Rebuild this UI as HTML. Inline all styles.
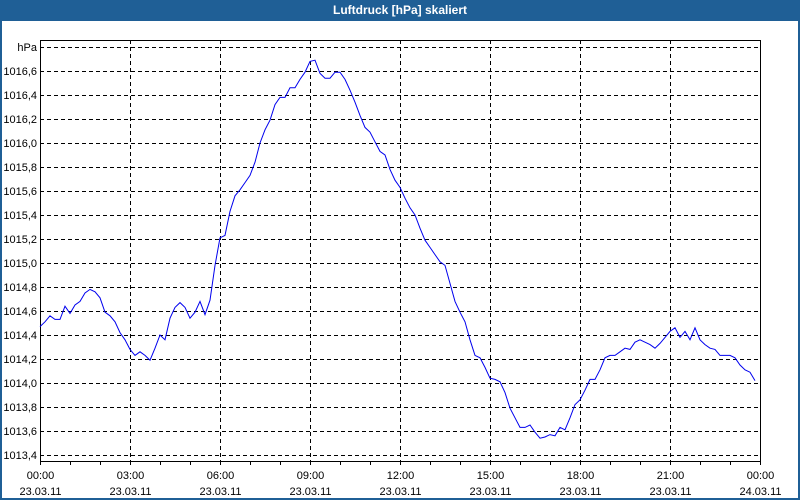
<!DOCTYPE html>
<html><head><meta charset="utf-8"><style>
body{margin:0;width:800px;height:500px;overflow:hidden;background:#fff;font-family:"Liberation Sans",sans-serif}
#frame{position:absolute;left:0;top:0;width:800px;height:500px;box-sizing:border-box;border:2px solid #1f5f96;border-top:none}
#title{position:absolute;left:0;top:0;width:800px;height:21px;background:#1f5f96;color:#fff;font-weight:bold;font-size:12px;line-height:21px;text-align:center}
svg{position:absolute;left:0;top:0}
</style></head><body>
<div id="frame"></div>
<div id="title">Luftdruck [hPa] skaliert</div>
<svg id="chart" width="800" height="500"></svg>
<script>
const yTicks=[1013.4,1013.6,1013.8,1014.0,1014.2,1014.4,1014.6,1014.8,1015.0,1015.2,1015.4,1015.6,1015.8,1016.0,1016.2,1016.4,1016.6];
const xTickHours=[0,3,6,9,12,15,18,21,24];
const xTimeLabels=["00:00","03:00","06:00","09:00","12:00","15:00","18:00","21:00","00:00"];
const xDateLabels=["23.03.11","23.03.11","23.03.11","23.03.11","23.03.11","23.03.11","23.03.11","23.03.11","24.03.11"];
const pressure=[1014.47,1014.51,1014.56,1014.53,1014.53,1014.64,1014.58,1014.65,1014.68,1014.75,1014.78,1014.76,1014.71,1014.59,1014.56,1014.51,1014.42,1014.36,1014.28,1014.23,1014.26,1014.23,1014.19,1014.29,1014.40,1014.36,1014.54,1014.63,1014.67,1014.63,1014.54,1014.59,1014.68,1014.57,1014.69,1014.98,1015.21,1015.23,1015.43,1015.56,1015.61,1015.67,1015.73,1015.84,1016.00,1016.11,1016.19,1016.32,1016.38,1016.38,1016.46,1016.46,1016.53,1016.59,1016.68,1016.69,1016.58,1016.54,1016.54,1016.59,1016.59,1016.53,1016.44,1016.34,1016.23,1016.13,1016.09,1016.01,1015.93,1015.90,1015.78,1015.69,1015.63,1015.54,1015.46,1015.40,1015.29,1015.19,1015.13,1015.07,1015.01,1014.98,1014.83,1014.68,1014.59,1014.51,1014.36,1014.23,1014.21,1014.13,1014.04,1014.03,1014.01,1013.92,1013.79,1013.71,1013.63,1013.63,1013.65,1013.59,1013.54,1013.55,1013.57,1013.56,1013.63,1013.61,1013.71,1013.82,1013.86,1013.94,1014.03,1014.03,1014.11,1014.21,1014.23,1014.23,1014.26,1014.29,1014.28,1014.34,1014.36,1014.34,1014.32,1014.29,1014.33,1014.38,1014.43,1014.46,1014.38,1014.43,1014.36,1014.46,1014.36,1014.32,1014.29,1014.28,1014.23,1014.23,1014.23,1014.21,1014.15,1014.11,1014.09,1014.02];
const stepMinutes=10;
const L=40,R=760,T=40,B=461;
const xs=h=>L+(h/24)*(R-L);
const ys=v=>47+(1016.8-v)*120;
const svg=document.getElementById('chart');
const NS='http://www.w3.org/2000/svg';
function mk(tag,attrs){const e=document.createElementNS(NS,tag);for(const k in attrs)e.setAttribute(k,attrs[k]);svg.appendChild(e);return e;}
// horizontal grid
[...yTicks,1016.8].forEach(v=>{
  const y=Math.round(ys(v))+0.5;
  const g=mk('line',{x1:L,x2:R,y1:y,y2:y,stroke:'#000','stroke-dasharray':'4,3','stroke-width':1});
  
  
});
yTicks.forEach(v=>{
  const t=mk('text',{x:L-3,y:Math.round(ys(v))+4,'text-anchor':'end','font-size':'11','font-family':'Liberation Sans, sans-serif',fill:'#000'});
  t.textContent=v.toFixed(1).replace('.',',');
  
  
});
const u=mk('text',{x:L-3,y:51,'text-anchor':'end','font-size':'11','font-family':'Liberation Sans, sans-serif',fill:'#000'});
u.textContent='hPa';


// vertical grid
xTickHours.forEach((h,i)=>{
  const x=Math.round(xs(h))+0.5;
  if(i>0&&i<xTickHours.length-1){
    const g=mk('line',{x1:x,x2:x,y1:T,y2:B,stroke:'#000','stroke-dasharray':'4,3'});
    
    
  }
  const t1=mk('text',{x:x,y:479,'text-anchor':'middle','font-size':'11','font-family':'Liberation Sans, sans-serif',fill:'#000'});
  t1.textContent=xTimeLabels[i];
  
  
  const t2=mk('text',{x:x,y:495,'text-anchor':'middle','font-size':'11','font-family':'Liberation Sans, sans-serif',fill:'#000'});
  t2.textContent=xDateLabels[i];
  
  
});
for(let h=0;h<=24;h++){
  const x=Math.round(xs(h))+0.5;
  const tk=mk('line',{x1:x,x2:x,y1:B,y2:B+4,stroke:'#000'});
  
  
}
// frame
const fr=mk('rect',{x:L+0.5,y:T+0.5,width:R-L,height:B-T,fill:'none',stroke:'#000'});


// series
const pts=pressure.map((v,i)=>xs(i*stepMinutes/60).toFixed(1)+','+ys(v).toFixed(1)).join(' ');
const pl=mk('polyline',{points:pts,fill:'none',stroke:'#0000ee','stroke-width':1});


</script>
</body></html>
